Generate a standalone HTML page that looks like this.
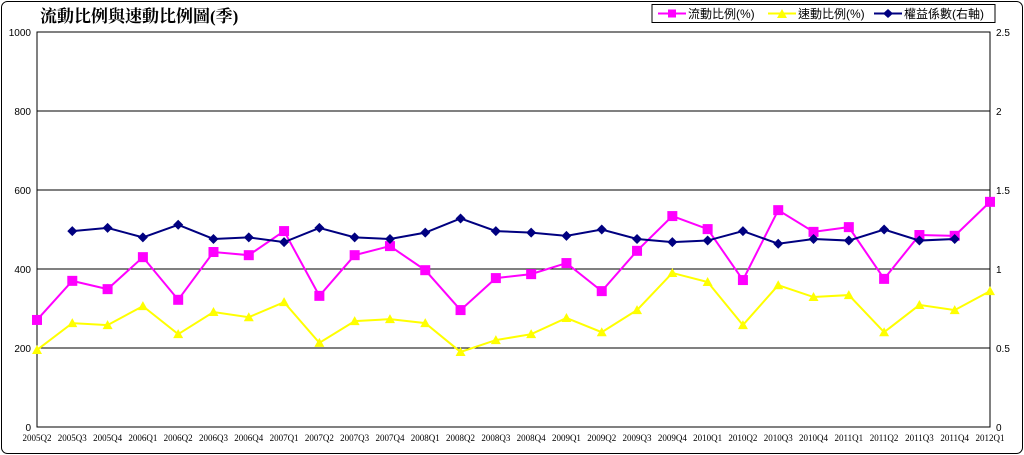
<!DOCTYPE html>
<html><head><meta charset="utf-8"><style>
body{margin:0;background:#fff;}
svg{display:block;font-family:"Liberation Sans","Noto Sans CJK TC",sans-serif;}
</style></head><body>
<svg id="chart" width="1024" height="455" viewBox="0 0 1024 455">
<rect x="1.5" y="1.5" width="1021" height="452" rx="6" fill="#fff" stroke="#000" stroke-width="1"/>
<text x="40" y="22" font-size="17" font-weight="bold" font-family="'Liberation Serif','Noto Serif CJK SC',serif">流動比例與速動比例圖(季)</text>
<g id="grid"></g><g id="axes"></g><g id="series"></g>
<g>
<rect x="652" y="4.5" width="343" height="18" fill="#fff" stroke="#000"/>
<line x1="658" y1="13.5" x2="686" y2="13.5" stroke="#ff00ff" stroke-width="2"/><rect x="668" y="9.5" width="8" height="8" fill="#ff00ff"/>
<text x="688" y="18" font-size="12">流動比例(%)</text>
<line x1="768" y1="13.5" x2="796" y2="13.5" stroke="#ffff00" stroke-width="2"/><polygon points="782,9 787,18 777,18" fill="#ffff00"/>
<text x="798" y="18" font-size="12">速動比例(%)</text>
<line x1="874" y1="13.5" x2="902" y2="13.5" stroke="#000080" stroke-width="2"/><polygon points="888,9 893,13.5 888,18 883,13.5" fill="#000080"/>
<text x="904" y="18" font-size="12">權益係數(右軸)</text>
</g>
</svg>
<script>
const categories=["2005Q2","2005Q3","2005Q4","2006Q1","2006Q2","2006Q3","2006Q4","2007Q1","2007Q2","2007Q3","2007Q4","2008Q1","2008Q2","2008Q3","2008Q4","2009Q1","2009Q2","2009Q3","2009Q4","2010Q1","2010Q2","2010Q3","2010Q4","2011Q1","2011Q2","2011Q3","2011Q4","2012Q1"];
const currentRatio=[271,370,349,430,322,443,435,496,332,435,458,397,296,377,387,415,344,446,534,501,372,549,494,506,375,486,484,570];
const quickRatio=[195,263,258,306,235,291,278,316,213,268,273,263,190,220,235,276,240,296,390,367,258,359,329,334,240,309,296,344];
const equityMultiplier=[null,1.24,1.26,1.20,1.28,1.19,1.20,1.17,1.26,1.20,1.19,1.23,1.32,1.24,1.23,1.21,1.25,1.19,1.17,1.18,1.24,1.16,1.19,1.18,1.25,1.18,1.19,null];
const leftTicks=[0,200,400,600,800,1000];
const rightTicks=["0","0.5","1","1.5","2","2.5"];
const X0=37,X1=990,Y0=427,Y1=32;
const xs=i=>X0+(X1-X0)*i/(categories.length-1);
const yl=v=>Y0-(Y0-Y1)*v/1000;
const yr=v=>Y0-(Y0-Y1)*v/2.5;
const NS="http://www.w3.org/2000/svg";
function mk(tag,attrs,parent,txt){const e=document.createElementNS(NS,tag);for(const k in attrs)e.setAttribute(k,attrs[k]);if(txt!==undefined)e.textContent=txt;parent.appendChild(e);return e;}
const grid=document.getElementById('grid'),axes=document.getElementById('axes'),ser=document.getElementById('series');
leftTicks.forEach((t,i)=>{
  const y=yl(t);
  if(t>0&&t<1000){const g=mk('line',{x1:X0,x2:X1,y1:y,y2:y,stroke:'#000','stroke-width':1},grid);
  
  }
  const a=mk('text',{x:X0-6,y:y+4,'font-size':10,'text-anchor':'end'},axes,String(t));
  
  
  const b=mk('text',{x:X1+6,y:y+4,'font-size':10},axes,rightTicks[i]);
  
  
});
const pa=mk('rect',{x:X0,y:Y1,width:X1-X0,height:Y0-Y1,fill:'none',stroke:'#000'},axes);


categories.forEach((c,i)=>{
  const t=mk('text',{x:xs(i),y:441,'font-size':9,'text-anchor':'middle','font-family':"'Liberation Serif',serif"},axes,c);
  
  
});
function series(vals,yf,color,shape,name){
  const g=mk('g',{},ser);
  
  
  let d='';vals.forEach((v,i)=>{if(v==null)return;d+=(d?'L':'M')+xs(i)+','+yf(v);});
  mk('path',{d:d,fill:'none',stroke:color,'stroke-width':2},g);
  vals.forEach((v,i)=>{if(v==null)return;const x=xs(i),y=yf(v);let m;
    if(shape==='sq')m=mk('rect',{x:x-5,y:y-5,width:10,height:10,fill:color},g);
    else if(shape==='tri')m=mk('polygon',{points:`${x},${y-5} ${x+5},${y+4} ${x-5},${y+4}`,fill:color},g);
    else m=mk('polygon',{points:`${x},${y-5} ${x+5},${y} ${x},${y+5} ${x-5},${y}`,fill:color},g);
    
    
  });
}
series(quickRatio,yl,'#ffff00','tri','quick-ratio-series');
series(currentRatio,yl,'#ff00ff','sq','current-ratio-series');
series(equityMultiplier,yr,'#000080','dia','equity-multiplier-series');
</script>
</body></html>
